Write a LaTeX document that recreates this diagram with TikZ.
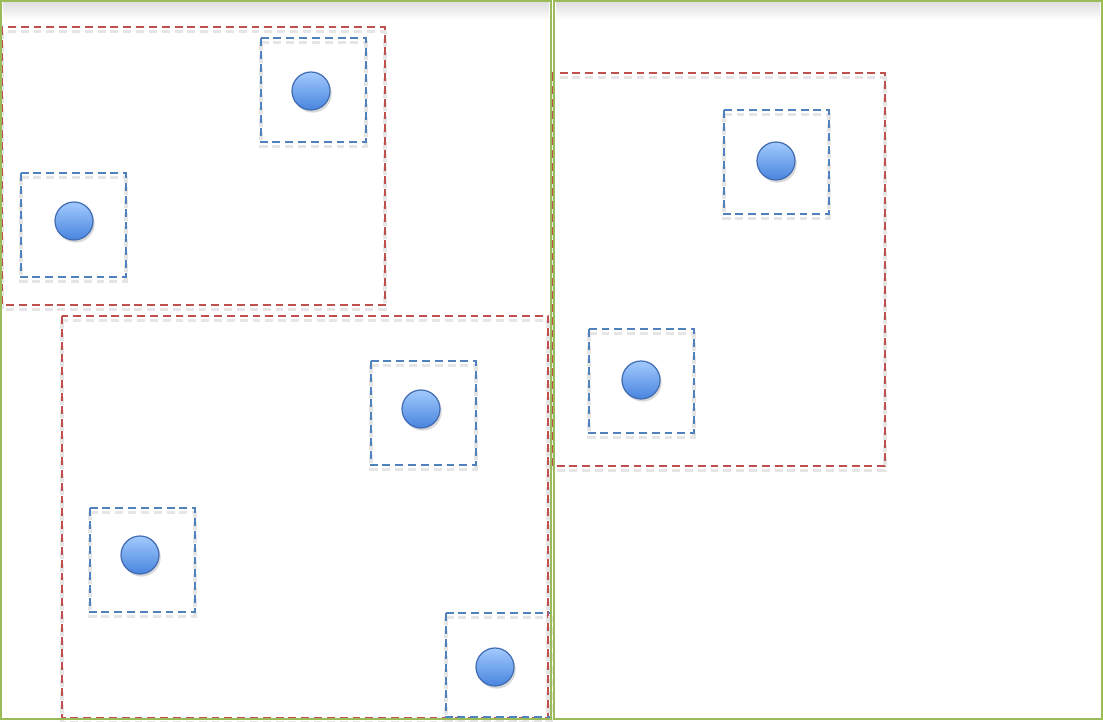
\documentclass[tikz,border=0pt]{standalone}
\usetikzlibrary{shadows}
\definecolor{grass}{RGB}{155,187,89}
\definecolor{brick}{RGB}{192,80,77}
\definecolor{steel}{RGB}{79,129,189}
\definecolor{ballhi}{RGB}{162,202,253}
\definecolor{balllo}{RGB}{72,132,222}
\definecolor{ballrim}{RGB}{66,108,178}

\tikzset{
  panel/.style={grass,line width=1.2pt},
  zone/.style={brick,line width=0.9pt,dash pattern=on 4.5pt off 2.8pt},
  cell/.style={steel,line width=0.9pt,dash pattern=on 4.5pt off 2.8pt},
  haze/.style={black!10,line width=2pt,dash pattern=on 4.5pt off 2.8pt,yshift=-2.5pt},
  ball/.style={circle,draw=ballrim,line width=0.7pt,minimum size=0.76cm,inner sep=0pt,
    top color=ballhi,bottom color=balllo,drop shadow={opacity=0.3,shadow xshift=1pt,shadow yshift=-1.5pt}}
}

\begin{document}
\begin{tikzpicture}[x=0.02cm,y=-0.02cm]
  \useasboundingbox (0,0) rectangle (1103,722);
  % inner shade under the top edges
  \shade[top color=black!12,bottom color=white] (3,3) rectangle (549,20);
  \shade[top color=black!12,bottom color=white] (556,3) rectangle (1100,20);
  % zones (red) with their faint shadow
  \foreach \l/\t/\r/\b in {2/27/385/305, 62/316/548/718, 552/73/885/466}
  {
    \draw[haze] (\l,\t) rectangle (\r,\b);
    \draw[zone] (\l,\t) rectangle (\r,\b);
  }
  % cells (blue), one ball in each
  \foreach \n/\l/\t/\cx/\cy in {a/261/38/311/91, b/21/173/74/221, c/371/361/421/409,
      d/90/508/140/555, e/446/613/495/667, f/724/110/776/161, g/589/329/641/380}
  {
    \draw[haze] (\l,\t) rectangle (\l+105,\t+104);
    \draw[cell] (\l,\t) rectangle (\l+105,\t+104);
    \node[ball] (ball\n) at (\cx,\cy) {};
  }
  % the two panels
  \draw[panel] (1,1) rectangle (551,719);
  \draw[panel] (554,1) rectangle (1102,719);
\end{tikzpicture}
\end{document}
